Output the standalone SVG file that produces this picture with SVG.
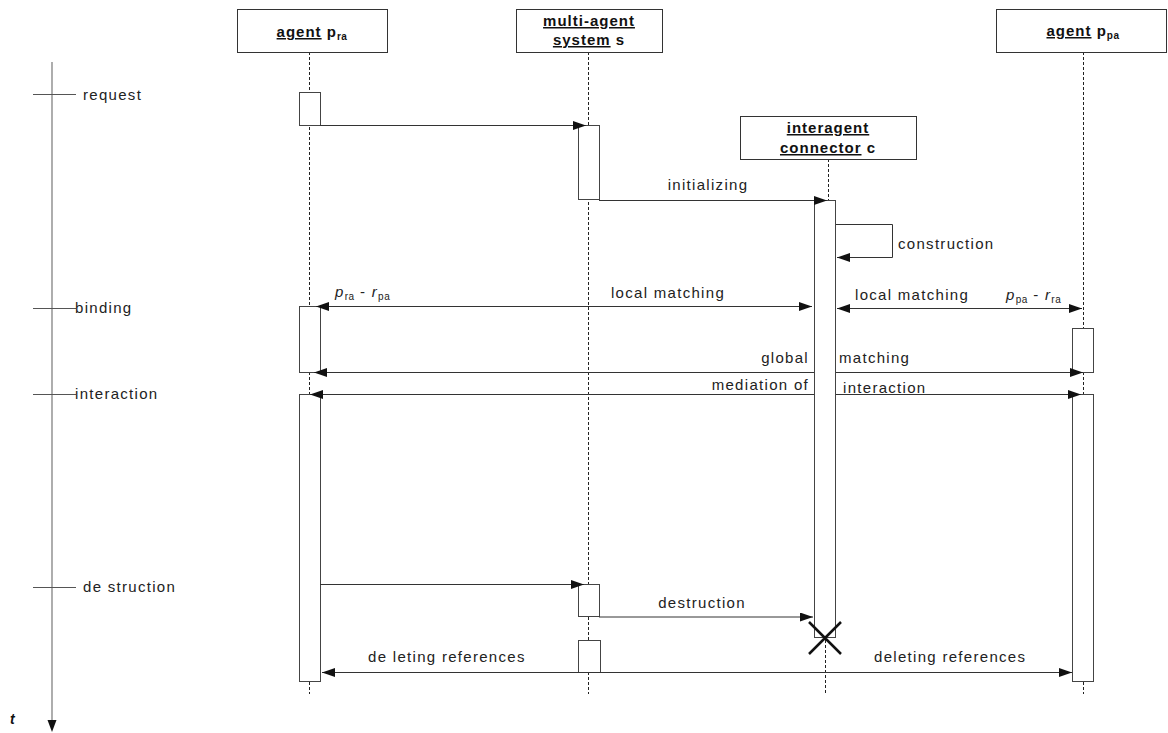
<svg xmlns="http://www.w3.org/2000/svg" width="1168" height="733" viewBox="0 0 1168 733">
  <style>
    .hdr { fill: #fff; stroke: #333; stroke-width: 1; }
    .act { fill: #fff; stroke: #444; stroke-width: 1; }
    .life { stroke: #222; stroke-width: 1; stroke-dasharray: 3 2; fill: none; }
    .msg { stroke: #333; stroke-width: 1; fill: none; }
    .axis { stroke: #777; stroke-width: 1.2; fill: none; }
    .tick { stroke: #555; stroke-width: 1; }
    .ht { font-family: "Liberation Sans", Arial, sans-serif; font-size: 15px; font-weight: bold; letter-spacing: 1px; fill: #111; }
    .lbl { font-family: "Liberation Sans", Arial, sans-serif; font-size: 15px; letter-spacing: 1.3px; fill: #222; }
    .u { text-decoration: underline; }
    .sub { font-size: 10px; letter-spacing: 0.5px; }
    .it { font-style: italic; }
  </style>
  <defs>
    <marker id="head" markerUnits="userSpaceOnUse" markerWidth="13" markerHeight="9" refX="13" refY="4.5" orient="auto-start-reverse">
      <path d="M0,0 L13,4.5 L0,9 z" fill="#111"/>
    </marker>
  </defs>

  <rect width="1168" height="733" fill="#fff"/>

  <!-- time axis with phase ticks -->
  <g id="time-axis">
    <line class="axis" x1="52" y1="62" x2="52" y2="721"/>
    <polygon points="47.5,720 56.5,720 52,732" fill="#111"/>
    <line class="tick" x1="33" y1="94.5" x2="76" y2="94.5"/>
    <line class="tick" x1="33" y1="308.5" x2="76" y2="308.5"/>
    <line class="tick" x1="33" y1="394.5" x2="76" y2="394.5"/>
    <line class="tick" x1="33" y1="587.5" x2="76" y2="587.5"/>
    <text class="lbl" x="83" y="100">request</text>
    <text class="lbl" x="75" y="313">binding</text>
    <text class="lbl" x="75" y="399">interaction</text>
    <text class="lbl" x="83" y="592">de struction</text>
    <text x="10" y="724" font-family="Liberation Sans, Arial, sans-serif" font-size="14" font-weight="bold" font-style="italic" fill="#111">t</text>
  </g>

  <!-- agent p_ra -->
  <g id="agent-pra">
    <line class="life" x1="309.5" y1="52" x2="309.5" y2="694"/>
    <rect class="hdr" x="237.5" y="9.5" width="150" height="43"/>
    <text class="ht" x="312" y="37" text-anchor="middle"><tspan class="u">agent</tspan> p<tspan class="sub" dy="3">ra</tspan></text>
    <rect class="act" x="299.5" y="92.5" width="21" height="33"/>
    <rect class="act" x="299.5" y="306.5" width="21" height="66"/>
    <rect class="act" x="299.5" y="394.5" width="21" height="287"/>
  </g>

  <!-- multi-agent system s -->
  <g id="multi-agent-system">
    <line class="life" x1="588.5" y1="52" x2="588.5" y2="694"/>
    <rect class="hdr" x="516.5" y="9.5" width="146" height="43"/>
    <text class="ht" x="589" y="26" text-anchor="middle"><tspan class="u">multi-agent</tspan></text>
    <text class="ht" x="589" y="45" text-anchor="middle"><tspan class="u">system</tspan> s</text>
    <rect class="act" x="578.5" y="125.5" width="21" height="74"/>
    <rect class="act" x="578.5" y="584.5" width="21" height="32"/>
    <rect class="act" x="578.5" y="640.5" width="22" height="32"/>
  </g>

  <!-- interagent connector c -->
  <g id="interagent-connector">
    <line class="life" x1="828.5" y1="159" x2="828.5" y2="200"/>
    <line class="life" x1="825.5" y1="640" x2="825.5" y2="695"/>
    <rect class="hdr" x="740.5" y="116.5" width="176" height="43"/>
    <text class="ht" x="828" y="133" text-anchor="middle"><tspan class="u">interagent</tspan></text>
    <text class="ht" x="828" y="153" text-anchor="middle"><tspan class="u">connector</tspan> c</text>
    <rect class="act" x="814.5" y="200.5" width="21" height="437"/>
    <path d="M809,622 L841,654 M841,622 L809,654" stroke="#111" stroke-width="2.5" fill="none"/>
  </g>

  <!-- agent p_pa -->
  <g id="agent-ppa">
    <line class="life" x1="1083.5" y1="52" x2="1083.5" y2="694"/>
    <rect class="hdr" x="996.5" y="9.5" width="170" height="43"/>
    <text class="ht" x="1083" y="36" text-anchor="middle"><tspan class="u">agent</tspan> p<tspan class="sub" dy="3">pa</tspan></text>
    <rect class="act" x="1072.5" y="328.5" width="21" height="44"/>
    <rect class="act" x="1072.5" y="394.5" width="21" height="287"/>
  </g>

  <!-- messages -->
  <g id="connectors">
    <!-- request -->
    <line class="msg" x1="320" y1="125.5" x2="586" y2="125.5" marker-end="url(#head)"/>
    <!-- initializing -->
    <line class="msg" x1="599" y1="200.5" x2="827" y2="200.5" marker-end="url(#head)"/>
    <text class="lbl" x="708" y="190" text-anchor="middle">initializing</text>
    <!-- construction (self call) -->
    <path class="msg" d="M836,224.5 H892.5 V257.5 H837" marker-end="url(#head)"/>
    <text class="lbl" x="898" y="249">construction</text>
    <!-- local matching, left side -->
    <line class="msg" x1="316" y1="306.5" x2="812" y2="306.5" marker-start="url(#head)" marker-end="url(#head)"/>
    <text class="lbl" x="668" y="298" text-anchor="middle">local matching</text>
    <text class="lbl" x="335" y="297"><tspan class="it">p</tspan><tspan class="sub" dy="3">ra</tspan><tspan dy="-3"> - </tspan><tspan class="it">r</tspan><tspan class="sub" dy="3">pa</tspan></text>
    <!-- local matching, right side -->
    <line class="msg" x1="837" y1="308.5" x2="1082" y2="308.5" marker-start="url(#head)" marker-end="url(#head)"/>
    <text class="lbl" x="855" y="300">local matching</text>
    <text class="lbl" x="1006" y="300"><tspan class="it">p</tspan><tspan class="sub" dy="3">pa</tspan><tspan dy="-3"> - </tspan><tspan class="it">r</tspan><tspan class="sub" dy="3">ra</tspan></text>
    <!-- global matching -->
    <line class="msg" x1="314" y1="372.5" x2="814" y2="372.5" marker-start="url(#head)"/>
    <line class="msg" x1="836" y1="372.5" x2="1083" y2="372.5" marker-end="url(#head)"/>
    <text class="lbl" x="809" y="363" text-anchor="end">global</text>
    <text class="lbl" x="839" y="363">matching</text>
    <!-- mediation of interaction -->
    <line class="msg" x1="310" y1="394.5" x2="814" y2="394.5" marker-start="url(#head)"/>
    <line class="msg" x1="836" y1="394.5" x2="1081" y2="394.5" marker-end="url(#head)"/>
    <text class="lbl" x="809" y="390" text-anchor="end">mediation of</text>
    <text class="lbl" x="843" y="393">interaction</text>
    <!-- destruction request -->
    <line class="msg" x1="320" y1="584.5" x2="584" y2="584.5" marker-end="url(#head)"/>
    <!-- destruction -->
    <line class="msg" x1="599" y1="617" x2="813" y2="617" marker-end="url(#head)"/>
    <text class="lbl" x="702" y="608" text-anchor="middle">destruction</text>
    <!-- deleting references -->
    <line class="msg" x1="322" y1="672.5" x2="1072" y2="672.5" marker-start="url(#head)" marker-end="url(#head)"/>
    <text class="lbl" x="368" y="662">de leting references</text>
    <text class="lbl" x="874" y="662">deleting references</text>
  </g>
</svg>
